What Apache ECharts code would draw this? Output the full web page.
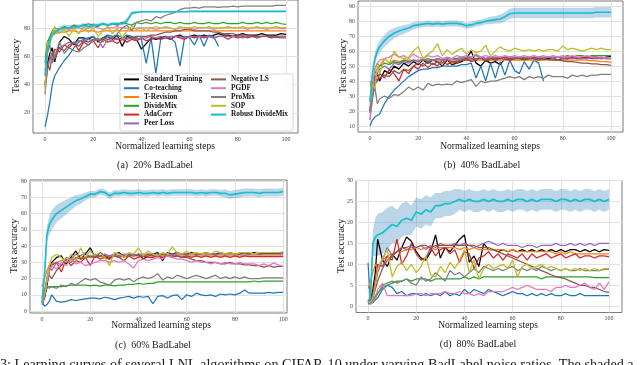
<!DOCTYPE html>
<html>
<head>
<meta charset="utf-8">
<script src="https://cdn.jsdelivr.net/npm/echarts@6/dist/echarts.min.js"></script>
<style>
  html, body { margin: 0; padding: 0; background: #fff; }
  #chart { width: 640px; height: 365px; }
</style>
</head>
<body>
<div id="chart"></div>
<script>
// method names and colours (legend order)
const NAMES = ['Standard Training', 'Co-teaching', 'T-Revision', 'DivideMix', 'AdaCorr', 'Peer Loss',
  'Negative LS', 'PGDF', 'ProMix', 'SOP', 'Robust DivideMix'];
const COLORS = ['#000000', '#1f77b4', '#ff7f0e', '#2ca02c', '#d62728', '#9467bd',
  '#8c564b', '#e377c2', '#7f7f7f', '#bcbd22', '#17becf'];

// normalized learning steps shared by every curve
const steps = [0, 1, 2, 3, 4, 6, 8, 10, 12, 14, 16, 18, 20, 22, 24, 26, 28, 30, 32, 34, 36, 38, 40, 42, 44,
  46, 48, 50, 52, 54, 56, 58, 60, 62, 64, 66, 68, 70, 72, 74, 76, 78, 80, 82, 84, 86, 88, 90, 92, 94, 96, 98, 100];
const xTicks = [0, 20, 40, 60, 80, 100];

// (a) 20% BadLabel
const stdA = [40,55,62,66,56, 70,74,72,68,73, 73,72,74,70,73, 74,72,75,67,74, 73,72,65,69,73, 72,73,74,72,74, 75,73,74,75,74, 75,74,75,76,75, 75,74,75,76,75, 75,75,76,75,75, 75,76,75.5];
const coA = [10,18,28,40,46, 52,57,61,66,70, 72,73,74,71,73, 75,74,75,73,75, 74,73,72,55,73, 48,72,74,73,70, 53,74,73,68,75, 67,75,74,67,null, null,null,null,null,null, null,null,null,null,null, null,null,null];
const trA = [59,70,73,75,76, 77,77,78,78,77, 78,78,78,77,78, 78,78,78,78,78, 78,78,78,78,78, 78,78,78,78,78, 78,78,78,78,78, 78,78,78,78,78, 78,78,78,78,78, 78,78,78,78,78, 78,78,78];
const dmA = [55,70,74,78,80, 79,81,80,82,81, 82,83,82,81,83, 82,83,82,84,83, 82,84,83,84,83, 84,83,84,84,83, 84,83,83,84,83, 83,84,83,83,84, 83,83,83,84,83, 83,84,83,84,83, 84,83,82.5];
const adaA = [38,50,60,56,65, 63,68,66,70,64, 70,68,71,66,72, 70,71,69,72,70, 72,71,73,71,72, 73,72,73,72,74, 73,72,74,73,74, 73,74,73,74,74, 72,74,73,74,73, 74,73,74,74,73, 74,74,74];
const peerA = [33,52,58,62,60, 66,68,70,69,71, 70,72,71,72,66, 72,71,73,72,72, 73,72,73,73,74, 73,74,73,74,74, 74,73,74,74,74, 74,74,73,74,74, 74,74,74,73,74, 74,73,74,74,74, 73.5,74,74];
const nlsA = [40,55,50,62,58, 66,64,68,70,67, 71,70,72,71,73, 72,73,72,73,73, 73,74,74,74,75, 75,76,77,77,78, 78,79,79,78,78, 78,78,77,77,76, 76,76,75,75,75, 74,74,74,74,73.5, 73.5,73,73];
const pgdfA = [40,65,72,76,78, 79,80,79,80,80, 79,80,81,80,79, 80,80,81,80,80, 79,80,80,80,80, 79,80,80,80,79, 80,80,80,79,80, 80,80,79,80,80, 80,80,80,80,79, 80,80,80,79,80, 80,79.5,79.5];
const proA = [50,62,68,55,60, 70,62,66,64,63, 66,68,71,73,70, 74,73,76,80,82, 78,84,85,86,85, 88,87,89,90,91, 93,94,94,94.5,94, 95,95,95,94.5,95, 95,95.5,95,95.5,95.5, 95.5,95.5,95.5,95.5,95.5, 96,96,96];
const sopA = [35,70,68,76,81, 76,79,74,80,76, 81,77,80,74,78, 81,76,80,73,78, 81,79,80,78,80, 81,80,81,80,79, 81,80,80,81,80, 80,81,80,80,80, 81,80,80,81,80, 80,81,80,80,80, 81,80,80.5];
const rdmA = [46,65,71,75,77, 79,80,80,81,81, 82,81,82,82,83, 82,83,83,83,85, 90.5,91,91.5,91.5,91.5, 91.5,91.5,91.5,91.5,91.5, 91.5,91.5,91.7,91.7,91.7, 91.7,91.7,91.7,91.7,91.7, 91.7,91.7,91.7,91.7,91.7, 91.7,91.7,91.7,91.7,91.7, 91.7,91.7,91.7];
const rdmSpreadA = [1.5,2.5,2.5,2,2, 2,2.5,2,1.5,1.5, 1.5,1.5,1.5,1.2,1.2, 1.2,1.2,1.2,1.2,2, 1.5,0.8,0.6,0.6,0.6, 0.6,0.5,0.5,0.5,0.5, 0.5,0.5,0.5,0.5,0.5, 0.5,0.5,0.5,0.5,0.5, 0.5,0.5,0.5,0.5,0.5, 0.5,0.5,0.5,0.5,0.5, 0.5,0.5,0.5];

// (b) 40% BadLabel
const stdB = [20,35,42,45,40, 47,45,50,48,52, 50,53,51,54,52, 54,53,50,54,51, 52,53,55,60,52, 50,54,52,53,51, 55,54,55,55,54, 55,55,54,55,55, 55,54,55,55,56, 55,56,55,56,56, 55,56,56.5];
const coB = [10,14,16,17,18, 25,30,34,37,40, 43,45,47,48,48, 49,49,50,50,50, 50,51,51,52,42, 50,40,52,42,53, 44,54,47,45,53, 48,54,52,40,null, null,null,null,null,null, null,null,null,null,null, null,null,null];
const trB = [40,32,48,52,50, 55,52,54,53,54, 54,54,54,54,54, 54,54,54,54,54, 54,54,54,55,54, 54,54,54,54,54, 54,54,54,54,54, 54,54,54,54,54, 54,54,54,54,54, 54,54,54,53.5,53.5, 53,53,52.5];
const dmB = [28,38,45,48,50, 52,51,53,52,54, 53,54,53,54,55, 54,55,54,55,55, 55,56,55,56,57, 56,55,56,56,55, 56,56,56,55,56, 56,56,56,56,56, 56,56,56,57,56, 57,57,56,57,57, 57,57,57];
const adaB = [22,35,43,40,45, 42,48,45,40,48, 45,50,48,52,49, 52,50,54,51,53, 52,54,55,53,54, 56,53,55,54,55, 55,54,55,56,55, 55,56,55,55,56, 55,56,55,55,56, 55,55,56,55,55, 56,55,55];
const peerB = [14,28,40,45,48, 50,48,52,51,53, 52,54,53,55,53, 54,55,54,55,55, 54,55,56,55,55, 56,55,56,55,56, 55,56,55,56,55, 56,55,56,55,56, 55,56,55,56,55, 56,55,55,56,55, 55,55,55];
const nlsB = [19,30,38,40,42, 44,43,47,45,48, 47,50,52,50,53, 51,53,52,54,53, 53,54,54,54,55, 55,54,55,55,55, 56,55,55,55,55, 55,55,55,54.5,54.5, 54,54,53.5,53,53, 52.5,52,52,51.5,51.5, 51,51,50.5];
const pgdfB = [15,35,48,52,54, 55,56,58,56,57, 55,58,56,55,57, 56,57,55,56,55, 57,56,57,56,58, 56,57,56,57,56, 57,56,57,56,57, 56,57,56,57,56, 57,56,57,56,57, 56,56,57,56,56, 56,55.5,55.5];
const proB = [19,30,36,25,28, 30,28.5,31,30.5,33, 36,34,36,34,38.5, 37,38,37.5,38,37.5, 40,39,40,41,36.5, 40,39,40,40,41, 42,43,42,43,41, 43,42,43,42,44, 43,43,43,42,44, 43,44,43,44,44, 44.5,44.5,44.5];
const sopB = [25,38,35,50,45, 55,52,60,56,55, 56,60,63,55,58, 60,65,57,61,58, 60,62,58,61,59, 60,64,57,60,63, 61,60,62,61,60, 61,60,61,60,61, 61,60,63.5,61,62, 61,60,61,62,61, 62,61,61];
const rdmB = [26,45,55,60,63, 67,70,72,73.5,74.5, 75.5,77,77.5,78,78.5, 78,78.5,78,78.5,78.5, 78.5,78,77,77.5,78.5, 79,80,80.5,81,81.5, 83,85,85.5,85.5,85.5, 85.5,85.5,85.5,85.5,85.5, 85.5,85.5,85.5,85.5,85.5, 85.5,85.5,85.5,85.5,86, 86,86,86];
const rdmSpreadB = [1,3,4,4,4, 4,4,3.5,3,3, 2.5,2.5,2,2,2, 2,2,2,2,2, 2,2,2,2,2, 2,2,2.5,2.5,3, 3,3.5,3.5,3.5,3.5, 3.5,3.5,3.5,3.5,3.5, 3.5,3.5,3.5,3.5,3.5, 3.5,3.5,3.5,3.5,3.5, 3.5,3.5,3.5];

// (c) 60% BadLabel
const stdC = [5,8,15,25,30, 33,34,29,33,37, 32,35,39,33,36, 34,32,35,36,33, 35,34,35,32,34, 35,36,31,36,35, 36,35,35,36,35, 35,36,35,35,36, 35,36,35,35,36, 35,36,35,35.5,35.5, 35.5,35.5,36];
const coC = [6,3,4,6,10, 6,5.5,6,7,6.5, 7,7.5,8,8,7.5, 8.5,8,7,8,8.5, 9,8,9,8.5,9, 4.5,9,9.5,8,9.5, 10,7,10,9,11, 10,9.5,10,9,10.5, 10,10.5,10,11,13, 11,11,11,11,11.5, 11,11.5,11.5];
const trC = [15,20,25,28,29, 30,31,31,32,32, 33,33,33,33,33.5, 33.5,34,34,34,34, 34,34,34,34,34, 34,34,34,34,34, 34,34,34,34,34, 34,34,34,34,34, 34,34,34,34,34, 34,34,34,34,34, 34,34,34];
const dmC = [8,12,14,15,15, 15,15,15.5,16,16, 16,16,15.5,16,15.3, 16,16,15.5,16,16, 16.5,16.5,17,16.5,17, 17,18,18,18,18, 18,18,18,18,18, 18,18,18,18,18, 18,18,18,18,18, 18,18.5,18,18.5,18.5, 18.5,18.5,18.5];
const adaC = [4,8,20,25,28, 30,24,32,28,31, 30,33,28,34,32, 33,32,34,33,31, 34,32,33,34,33, 33,34,33,34,33, 34,33,34,33,34, 33,34,33,34,33, 34,33,34,33,34, 33.5,33.5,33.5,33.5,33.5, 33.5,33.5,33.5];
const peerC = [5,12,20,28,25, 30,28,33,32,35, 34,36,33,35,34, 35,34,35,34,35, 35,34,35,35,35, 35,35,35,35,35, 35,35,35,35,35, 35,35,35,35,35, 35,35,35,35,35, 35,35,35,35,35, 35,35,35];
const nlsC = [8,12,18,22,20, 25,28,31,30,33, 32,33,34,33,34, 34,33,34,33,34, 34,35,34,34,35, 34,34,35,34,34, 34,33,33,32,31, 31,30,30,30,29, 29,30,29,29,28.5, 28.5,28,28,27,28, 27,27.5,27.5];
const pgdfC = [4,10,18,24,28, 26,30,28,32,29, 30,28,29,30,31, 31,30,31,30,31, 29,26.5,31,32,31, 32,33,32,34,33, 32,32,31,30,31, 30,30,29,30,29, 30,29,29,30,29, 29,29,28,29,28, 29.5,28.5,27.5];
const proC = [5,10,16,14,15, 14,16,15,17,16, 18,20,19,20,18, 17,16,19,20,19, 20,18,20,21,20, 21,23,19,21,20, 22,21,20,21,22, 21,20,21,22,20, 21,20,21,20,21, 20,20,20,20.5,20.5, 20.5,20.5,20.5];
const sopC = [5,10,18,28,33, 35,33,30,35,31, 39,33,37,34,36, 33,28,36,35,33, 36,35,39,34,37, 35,34,36,35,39.5, 36,35,37,35,36, 35,36,35,37,36, 35,36,35,36,36, 36,35,36,36,36, 36,36,36.5];
const rdmC = [5,22,47,53,56, 60,62,64,66,68, 69,70.5,72,72,73.5, 73,71,72.5,72.5,73, 72.5,72.5,73,72.5,72.5, 73,72.5,73,72.5,73, 73,73,73,73,72.5, 73,72.5,73,73,72.5, 72.5,71.5,72,72.5,73, 73,73,72.5,73,73, 73,73,73.5];
const rdmSpreadC = [0.5,2,5,6,6, 5.5,5,4.5,4,3.5, 3,2.5,2,2,2, 2,2,2,2,2, 2,2,2,2,2, 2,2,2,2,2, 2,2,2,2,2, 2,2,2,2,2, 2.5,2.5,2.5,2.5,2.5, 2.5,2.5,2.5,2.5,2.5, 2.5,2.5,2.5];

// (d) 80% BadLabel
const stdD = [1,1.5,4,8,16, 11,9.5,12.5,11,14, 16.5,15.5,13,11.5,11, 13,17,11.5,14,13, 14.5,16,17,10.5,12, 9.5,15,13.5,13.5,13, 13.5,13,13.5,13,13.5, 13,13.5,13,13.5,13, 13.5,13,13.5,13,13.5, 13.5,13,13.5,13,13.5, 13,13.5,13.3];
const coD = [10.3,1,0.8,1.5,2, 4,5,4.5,3,3.5, 2.5,3,3,2.5,3, 2.5,3,2.5,3.5,2.5, 3,2.5,4,3,4, 3.5,3,4,3.5,3, 2.5,3,3.5,3,3, 2.5,3,2.5,3,2.5, 3,2.5,2.5,3,2.5, 2.5,3,2.5,2.5,2.5, 2.5,2.5,2.5];
const trD = [4.2,6,8,10,9, 11,12,12.5,13,13, 13.5,13.5,14,13.5,14, 14,13.5,14,14,14, 14,13.5,14,13.5,14, 13.5,13.5,13.5,13.5,13.5, 13.5,13,13.5,13,13, 13,13,13,13,13, 13,12.5,13,12.5,13, 12.5,12.5,12.5,12.5,12.5, 12.5,12.5,12.5];
const dmD = [0.8,0.5,1,2,3, 4.5,5,5.5,6,6, 6.5,6,6.5,6.5,6.5, 6,6.5,6.5,6.5,6.5, 6.5,6.5,7,6.5,7, 6.5,7,7,7,7, 7,7,7,7,7, 7,7,7,6.5,7, 7,7,7,7,7, 7,7,7,7,6.8, 6.8,6.8,6.8];
const adaD = [1.5,1,3,6,10, 9.5,12,11,16,10, 12,15,12.5,11,11.5, 14,12,13.5,14,12.5, 13.5,10.5,13,12.5,9, 11.5,12,13,11.5,12.5, 11,12.5,12,11.5,12.5, 11,12.5,11.5,12,12.5, 11.5,12,12.5,11.5,12, 12.5,11.5,12,12,11.5, 12,12,11.8];
const peerD = [1,0.8,2,5,8, 11,14,12,13,14, 13.5,14,14,14.5,13.5, 14.5,14,15,14.5,14.5, 15,14.5,15,14.5,14, 14.5,15,15.5,15,14.5, 15,14.5,14.5,14.5,14, 14.5,14.5,14,14.5,14.5, 14.5,15,14.5,14.5,15, 14.5,15,14.5,15,14.5, 15,15,15];
const nlsD = [1,1,2,4,6, 9,11,12,13,14, 14,14.5,14,14.5,14.5, 14,14.5,14.5,14.5,14.5, 14.5,14.5,14.5,14.5,14.5, 14,14,14,13.5,13, 12.5,12,11.5,11,10.5, 10,9.5,9,8.5,8, 7.5,7,6.8,6.5,6, 5.5,5,5,4.5,4.5, 4,3.5,3.3];
const pgdfD = [1.5,0.5,1,2,4, 5.5,2.5,2.5,2.5,2.5, 2.5,2.5,3,3,2.5, 3,3,3,3.5,3, 3,3.5,3,3,2.5, 3,2.5,3.5,3.5,3.5, 3.5,4,4.5,4,4.5, 5,4.5,4,4,4, 3.5,4.5,4.5,5,4.5, 4.5,5,5.5,4.5,4, 5.5,4,5.8];
const proD = [0.5,0.8,1.5,2.5,3, 5,5.5,6,5.5,6, 6.5,5.5,5,7,6, 6.5,8,7,6,8.5, 7.5,8,7,8,9, 8,9.5,9,8.5,9, 8.5,9,9.5,8.5,9, 8.5,9,8.5,9.5,9, 8.5,9,8.5,9,8.5, 8.5,9,8.5,8.5,8.5, 8.5,8.8,8.8];
const sopD = [1,1,2,5,9, 11.5,13.5,7,9.5,10.5, 8.5,10,8,9.5,12, 7.5,7,9.5,8,10.5, 9,11,13.5,8,11, 6.5,9,10,9,9.5, 10,9,11,7,9.5, 10,9,9.5,10,9, 9.5,9,8.5,9,8.5, 9,8.5,9,8.5,9, 8.5,9,9];
const rdmD = [1,2,15,16.5,17, 17.5,18.5,19.5,19,20.5, 21,20.5,22.5,22,23, 22.5,24,24,24.5,24.5, 25,25.5,25,25.5,25, 25,25.5,25,25.5,25, 25,25.5,25,25.5,25.5, 25,25.5,25,25.5,25.5, 25.5,25,25.5,25.5,25, 25.5,25,25.5,25.5,25, 25.5,25,25.5];
const rdmSpreadD = [0.5,1,3,4.5,5, 5,5,4.5,4,4, 4,3.5,3.5,3.5,3.5, 3.5,3,3,3,3, 3,2.5,2.5,2.5,2.5, 2.5,2.5,2.5,2.5,2.5, 2.5,2.5,2.5,2.5,2.5, 2.5,2.5,2.5,2.5,2.5, 2.5,2.5,2.5,2.5,2.5, 2.5,2.5,2.5,2.5,2.5, 2.5,2.5,2.5];

const FONT = '"Liberation Serif", "DejaVu Serif", serif';

const panels = [
  { grid: { left: 33, top: 0, width: 265, height: 133 }, x: [-5, 105], y: [5.7, 99.8], yTicks: [20, 40, 60, 80],
    curves: [stdA, coA, trA, dmA, adaA, peerA, nlsA, pgdfA, proA, sopA, rdmA], spread: rdmSpreadA },
  { grid: { left: 358, top: 1, width: 265, height: 131 }, x: [-5, 105], y: [6, 93.5], yTicks: [10, 20, 30, 40, 50, 60, 70, 80, 90],
    curves: [stdB, coB, trB, dmB, adaB, peerB, nlsB, pgdfB, proB, sopB, rdmB], spread: rdmSpreadB },
  { grid: { left: 30, top: 180, width: 257, height: 133 }, x: [-5, 101.6], y: [-1.2, 80.7], yTicks: [0, 10, 20, 30, 40, 50, 60, 70, 80],
    curves: [stdC, coC, trC, dmC, adaC, peerC, nlsC, pgdfC, proC, sopC, rdmC], spread: rdmSpreadC },
  { grid: { left: 356, top: 180.5, width: 266, height: 132 }, x: [-5, 105.4], y: [-1.5, 30], yTicks: [0, 5, 10, 15, 20, 25, 30],
    curves: [stdD, coD, trD, dmD, adaD, peerD, nlsD, pgdfD, proD, sopD, rdmD], spread: rdmSpreadD }
];

function pts(ys) {
  return steps.map((s, i) => [s, ys[i]]).filter(p => p[1] !== null);
}

const grids = [], xAxes = [], yAxes = [], series = [];
panels.forEach((p, i) => {
  grids.push(Object.assign({ show: true, borderColor: '#595959', borderWidth: 0.8, backgroundColor: '#fff' }, p.grid));
  xAxes.push({
    gridIndex: i, type: 'value', min: p.x[0], max: p.x[1],
    axisLine: { show: false },
    axisTick: { show: false, customValues: xTicks },
    axisLabel: { customValues: xTicks, fontSize: 6, color: '#444', margin: 3, fontFamily: FONT },
    splitLine: { show: true, lineStyle: { color: '#e2e2e2', width: 1 } }
  });
  yAxes.push({
    gridIndex: i, type: 'value', min: p.y[0], max: p.y[1],
    axisLine: { show: false },
    axisTick: { show: false, customValues: p.yTicks },
    axisLabel: { customValues: p.yTicks, fontSize: 6, color: '#444', margin: 3, fontFamily: FONT },
    splitLine: { show: true, lineStyle: { color: '#e2e2e2', width: 1 } }
  });
  // shaded band around Robust DivideMix, one polygon through the axis scales
  const rdm = p.curves[10], sp = p.spread;
  series.push({
    type: 'custom', xAxisIndex: i, yAxisIndex: i, silent: true, z: 1,
    data: [[steps[0], rdm[0]]],
    renderItem: function (params, api) {
      const upper = steps.map((s, k) => api.coord([s, rdm[k] + sp[k]]));
      const lower = steps.map((s, k) => api.coord([s, rdm[k] - sp[k]])).reverse();
      return { type: 'polygon', shape: { points: upper.concat(lower) },
        style: { fill: 'rgba(31,119,180,0.3)' } };
    }
  });
  p.curves.forEach((ys, k) => {
    series.push({
      name: NAMES[k], type: 'line', xAxisIndex: i, yAxisIndex: i,
      data: pts(ys), symbol: 'none', color: COLORS[k],
      lineStyle: { width: k === 10 ? 1.7 : 1.25, color: COLORS[k] },
      emphasis: { disabled: true }, z: 2
    });
  });
});

function label(text, x, y, size, rot, align) {
  return {
    type: 'text', x: x, y: y, rotation: rot || 0, z: 5,
    style: { text: text, fontSize: size, fontFamily: FONT, fill: '#1a1a1a', align: align || 'center', verticalAlign: 'middle' }
  };
}

const legendText = { fontSize: 7.3, lineHeight: 8.8, fontFamily: FONT, fontWeight: 'bold', color: '#111' };
const legendBase = { orient: 'vertical', top: 75, itemGap: 0, itemWidth: 15, itemHeight: 2, icon: 'rect',
  padding: 0, selectedMode: false, textStyle: legendText, z: 30 };

const chart = echarts.init(document.getElementById('chart'), null, { renderer: 'canvas' });
chart.setOption({
  animation: false,
  grid: grids,
  xAxis: xAxes,
  yAxis: yAxes,
  legend: [
    Object.assign({ data: NAMES.slice(0, 6), left: 124 }, legendBase),
    Object.assign({ data: NAMES.slice(6), left: 211 }, legendBase)
  ],
  graphic: [
    { type: 'rect', z: 20, shape: { x: 120, y: 74, width: 173, height: 57, r: 2 },
      style: { fill: 'rgba(255,255,255,0.85)', stroke: '#cccccc', lineWidth: 0.8 } },
    label('Test accuracy', 16, 66, 10, Math.PI / 2),
    label('Test accuracy', 343, 66, 10, Math.PI / 2),
    label('Test accuracy', 14.5, 246, 10, Math.PI / 2),
    label('Test accuracy', 341, 246, 10, Math.PI / 2),
    label('Normalized learning steps', 165, 146, 9.5),
    label('Normalized learning steps', 490, 146, 9.5),
    label('Normalized learning steps', 161, 325.5, 9.5),
    label('Normalized learning steps', 488, 325.5, 9.5),
    label('(a)  20% BadLabel', 155, 165, 10),
    label('(b)  40% BadLabel', 482, 165, 10),
    label('(c)  60% BadLabel', 153, 345, 10),
    label('(d)  80% BadLabel', 478, 344, 10),
    label('3: Learning curves of several LNL algorithms on CIFAR-10 under varying BadLabel noise ratios. The shaded a', 0, 365, 14.2, 0, 'left')
  ],
  series: series
});
</script>
</body>
</html>
